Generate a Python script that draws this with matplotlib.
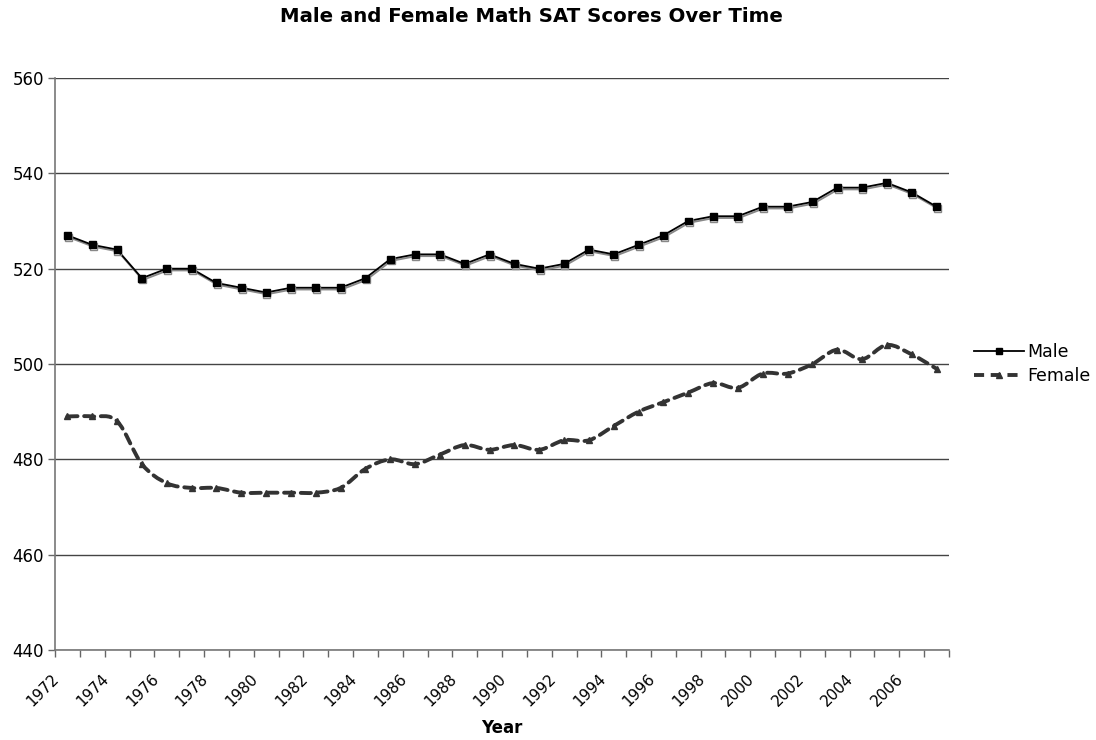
import numpy as np
import matplotlib
matplotlib.use("Agg")
import matplotlib.pyplot as plt
import matplotlib.patheffects as pe
import matplotlib.transforms as mtransforms
from matplotlib.path import Path
from matplotlib.patches import PathPatch
from matplotlib.lines import Line2D

years = list(range(1972, 2008))
male = [527, 525, 524, 518, 520, 520, 517, 516, 515, 516, 516, 516, 518, 522,
        523, 523, 521, 523, 521, 520, 521, 524, 523, 525, 527, 530, 531, 531,
        533, 533, 534, 537, 537, 538, 536, 533]
female = [489, 489, 488, 479, 475, 474, 474, 473, 473, 473, 473, 474, 478, 480,
          479, 481, 483, 482, 483, 482, 484, 484, 487, 490, 492, 494, 496, 495,
          498, 498, 500, 503, 501, 504, 502, 499]
yticks = [440, 460, 480, 500, 520, 540, 560]

plt.rcParams['font.family'] = ['DejaVu Sans']

fig = plt.figure(figsize=(10.96, 7.4), dpi=100)
ax = fig.add_axes([55/1096, 1-650/740, (949-55)/1096, (650-78)/740])

x = np.arange(len(years))

# Male with shadow
ax.plot(x, male, color='black', lw=1.3, marker='s', ms=5, zorder=4,
        path_effects=[pe.SimpleLineShadow(offset=(0.6, -1.3), shadow_color='#888888', alpha=1.0),
                      pe.Normal()])

# Female smoothed curve (Catmull-Rom -> Bezier through data points)
fy = np.array(female, dtype=float)
verts = [(x[0], fy[0])]
codes = [Path.MOVETO]
n = len(x)
for i in range(n - 1):
    p0 = (x[max(i-1, 0)], fy[max(i-1, 0)])
    p1 = (x[i], fy[i])
    p2 = (x[i+1], fy[i+1])
    p3 = (x[min(i+2, n-1)], fy[min(i+2, n-1)])
    c1 = (p1[0] + (p2[0]-p0[0])/6, p1[1] + (p2[1]-p0[1])/6)
    c2 = (p2[0] - (p3[0]-p1[0])/6, p2[1] - (p3[1]-p1[1])/6)
    verts += [c1, c2, p2]
    codes += [Path.CURVE4]*3
patch = PathPatch(Path(verts, codes), facecolor='none', edgecolor='#333333',
                  lw=2.8, linestyle=(0, (2.6, 1.7)), capstyle='round', zorder=3)
ax.add_patch(patch)
ax.plot(x, female, linestyle='none', marker='^', ms=4.5, color='#333333', zorder=3)

ax.set_xlim(-0.5, len(years) - 0.5)
ax.set_ylim(440, 560)
ax.set_yticks(yticks)
ax.set_yticklabels([str(v) for v in yticks], fontsize=12)
ax.grid(axis='y', color='#444444', lw=1.0)
ax.set_axisbelow(True)

ax.set_xticks(np.arange(-0.5, len(years), 1.0))
ax.set_xticklabels([])
ax.set_xticks(x[::2], minor=True)
ax.set_xticklabels([str(y) for y in years[::2]], minor=True, rotation=45,
                   ha='right', va='top', rotation_mode='anchor', fontsize=11)
ax.tick_params(axis='x', which='major', length=5, direction='out', color='#666666', width=1)
ax.tick_params(axis='x', which='minor', length=0, pad=8)
ax.tick_params(axis='y', length=5, direction='out', color='#666666', width=1, pad=3)
offset = mtransforms.ScaledTranslation(-16/100, -10/100, fig.dpi_scale_trans)
for lab in ax.get_xticklabels(minor=True):
    lab.set_transform(lab.get_transform() + offset)

for s in ['top', 'right']:
    ax.spines[s].set_visible(False)
for s in ['left', 'bottom']:
    ax.spines[s].set_color('#777777')
    ax.spines[s].set_linewidth(1.2)

ax.set_xlabel('Year', fontsize=12, fontweight='bold')
ax.xaxis.set_label_coords(0.5, -(728-650)/572)
ax.xaxis.label.set_va('center')
fig.suptitle('Male and Female Math SAT Scores Over Time', fontsize=14.2, fontweight='bold',
             x=531/1096, y=1-17/740, va='center')

handles = [Line2D([], [], color='black', lw=1.3, marker='s', ms=4),
           Line2D([], [], color='#333333', lw=2.8, linestyle=(0, (2.6, 1.7)), marker='^', ms=4)]
fig.legend(handles, ['Male', 'Female'], loc='center left', bbox_to_anchor=(958/1096, 1-364/740),
           frameon=False, fontsize=12.5, handlelength=2.9, handletextpad=0.2, labelspacing=0.35)

fig.savefig('out.png', dpi=100)
